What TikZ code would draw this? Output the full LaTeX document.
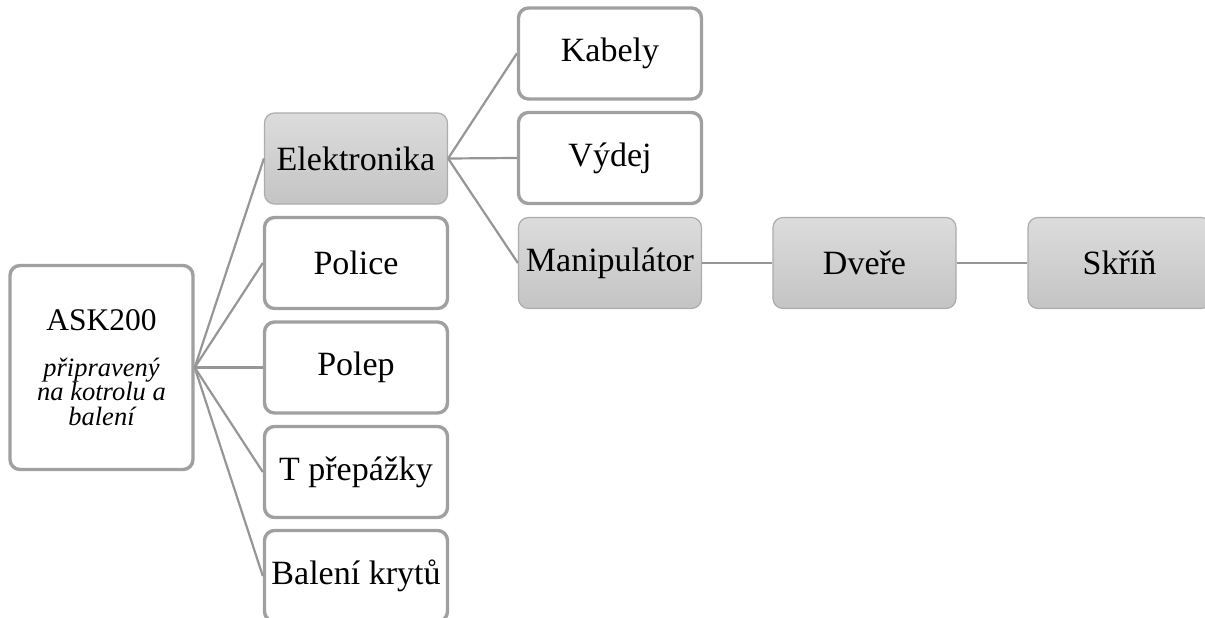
\documentclass[tikz,border=0pt]{standalone}
\usepackage{fontspec}
\setmainfont{Liberation Serif}
\usepackage{tikz}
\definecolor{lineColor}{RGB}{150,150,150}
\definecolor{frameColor}{RGB}{160,160,160}
\definecolor{shadeFrame}{RGB}{172,172,172}
\definecolor{shadeTop}{RGB}{220,220,220}
\definecolor{shadeBottom}{RGB}{196,196,196}
\tikzstyle{sheet} = [x = 1pt, y = -1pt]
\tikzstyle{boxText} = [font=\fontsize{34}{38}\selectfont, inner sep = 0pt, minimum width = 183pt, minimum height = 91pt, rounded corners = 10pt]
\tikzstyle{plainBox} = [boxText, draw=frameColor, line width = 3.4pt, fill=white]
\tikzstyle{shadedBox} = [boxText, draw=shadeFrame, line width = 1.2pt, top color=shadeTop, bottom color=shadeBottom]
\tikzstyle{linkLine} = [color=lineColor, line width = 2.2pt]

\begin{document}
\begin{tikzpicture}[sheet]
          \useasboundingbox (0,0) rectangle (1205,618);
          \clip (0,0) rectangle (1205,618);

          % root
          \node [plainBox, minimum height = 204pt, align=center, font=\fontsize{26.5}{24.5}\selectfont] (ask) at (101.5,367.5)
            {\fontsize{31.5}{36}\selectfont ASK200\\[21pt]
             \itshape připravený\\ \itshape na kotrolu a\\ \itshape balení};

          % first level
          \node [shadedBox] (elektronika) at (356,158.5) {Elektronika};
          \node [plainBox] (police) at (356,263) {Police};
          \node [plainBox] (polep) at (356,367.5) {Polep};
          \node [plainBox] (prepazky) at (356,472) {T přepážky};
          \node [plainBox] (kryty) at (356,576) {Balení krytů};

          % second level
          \node [plainBox] (kabely) at (610,53.5) {Kabely};
          \node [plainBox] (vydej) at (610,158) {Výdej};
          \node [shadedBox] (manipulator) at (610,263) {Manipulátor};
          \node [shadedBox] (dvere) at (864.5,263) {Dveře};
          \node [shadedBox] (skrin) at (1119.5,263) {Skříň};

          \foreach \child in {elektronika,police,polep,prepazky,kryty} {
            \draw [linkLine] (ask.east) -- (\child.west);
          }
          \foreach \child in {kabely,vydej,manipulator} {
            \draw [linkLine] (elektronika.east) -- (\child.west);
          }
          \draw [linkLine] (manipulator.east) -- (dvere.west);
          \draw [linkLine] (dvere.east) -- (skrin.west);
        \end{tikzpicture}
\end{document}
